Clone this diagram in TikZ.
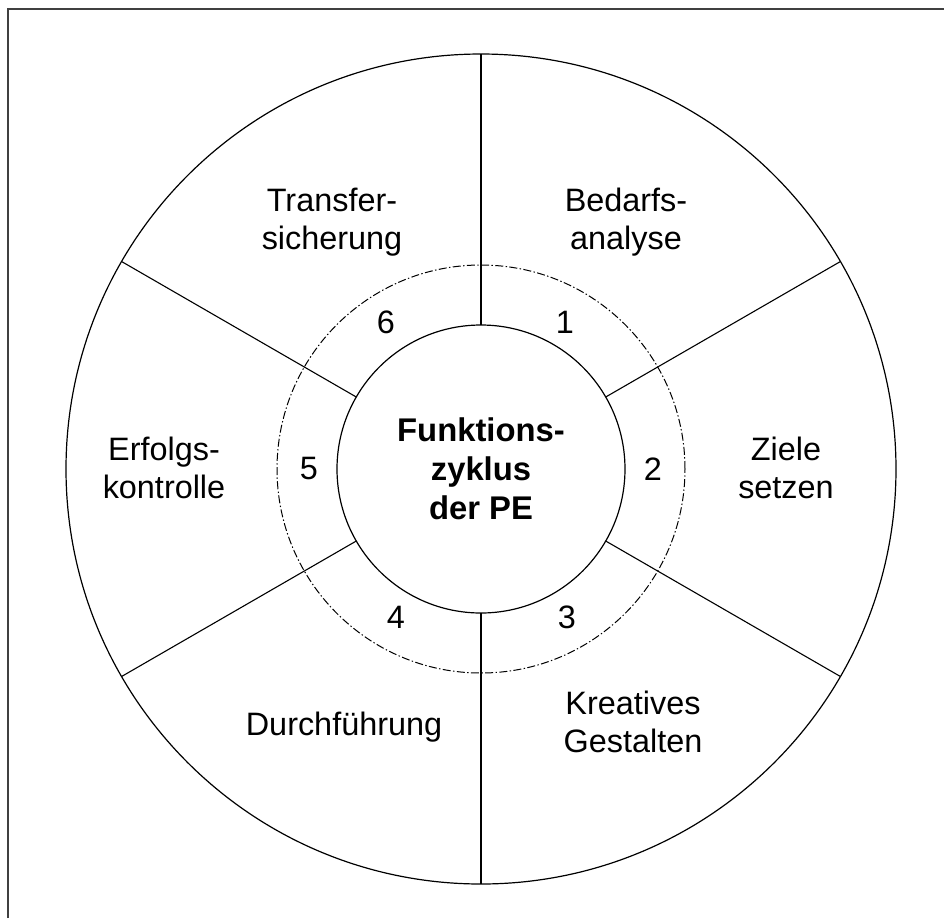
\documentclass[tikz,border=0pt]{standalone}
\usepackage{fontspec}
\setmainfont{Liberation Sans}
\usepackage{tikz}
\usetikzlibrary{positioning,calc}

\begin{document}
\begin{tikzpicture}[x=0.5pt,y=-0.5pt,
  ring/.style={draw,circle,inner sep=0pt,outer sep=0pt,line width=0.6pt},
  spoke/.style={line width=0.55pt},
  phase/.style={align=center,font=\fontsize{16.2}{18.7}\selectfont},
  num/.style={font=\fontsize{16.2}{18.7}\selectfont},
  frame/.style={line width=0.65pt,black!75}
]
  \useasboundingbox (0,0) rectangle (944,918);
  \draw[frame] (8,918) |- (944,9);

  \node[ring,minimum size=415pt] (outer) at (481,469) {};
  \node[ring,minimum size=204pt,line width=0.5pt,
        dash pattern=on 4pt off 1.2pt on 0.7pt off 1.2pt] (mid) at (481,469) {};
  \node[ring,minimum size=144pt,align=center,
        font=\bfseries\fontsize{16.4}{19.5}\selectfont] (inner) at (481,469)
        {Funktions-\\zyklus\\der PE};
  \foreach \a in {90,30,-30,-90,-150,150}
    \draw[spoke] (inner.\a) -- (outer.\a);

  % Phasen
  \node[phase] (bedarf) at (626,222) {Bedarfs-\\analyse};
  \node[phase] (ziele) at (786,468) {Ziele\\setzen};
  \node[phase] (kreativ) at (633,722) {Kreatives\\Gestalten};
  \node[phase] (durch) at (344,727) {Durchführung};
  \node[phase] (erfolg) at (164,468) {Erfolgs-\\kontrolle};
  \node[phase] (transfer) at (332,222) {Transfer-\\sicherung};

  % Nummern
  \node[num] (n1) at (565,322) {1};
  \node[num] (n2) at (653,469) {2};
  \node[num] (n3) at (567,617) {3};
  \node[num] (n4) at (396,617) {4};
  \node[num] (n5) at (309,469) {5};
  \node[num] (n6) at (386,322) {6};
\end{tikzpicture}
\end{document}
